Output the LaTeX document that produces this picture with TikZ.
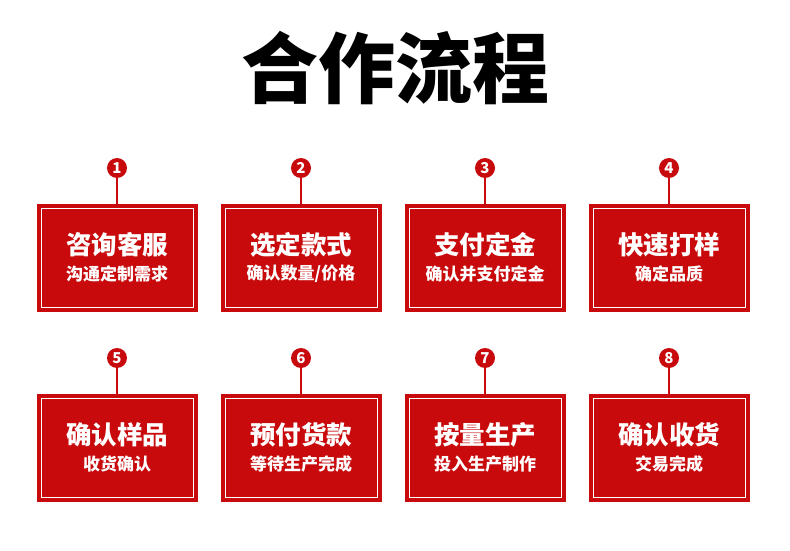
\documentclass[tikz,border=0pt]{standalone}
\usepackage{fontspec}
\setmainfont{Noto Sans CJK SC}
\usetikzlibrary{positioning,calc}
\definecolor{flowred}{RGB}{200,10,12}

\tikzset{
  stepcard/.style={fill=flowred,draw=flowred,minimum width=160pt,minimum height=107pt,inner sep=0pt,
    path picture={\draw[white,line width=1pt]
      ([shift={(4pt,4pt)}]path picture bounding box.south west) rectangle
      ([shift={(-4pt,-4pt)}]path picture bounding box.north east);}},
  stepnum/.style={circle,fill=flowred,minimum size=20pt,inner sep=0pt,text=white,
    font=\bfseries\fontsize{15}{15}\selectfont},
  steplink/.style={flowred,line width=2pt}
}

\begin{document}
\begin{tikzpicture}[x=1pt,y=1pt]
  \useasboundingbox[fill=white] (0,0) rectangle (790,550);
  \node[font=\bfseries\fontsize{77}{80}\selectfont] (title) at (395,482) {合作流程};
  \foreach \x/\y/\t/\s [count=\k] in {
    117/292.5/咨询客服/沟通定制需求,
    301/292.5/选定款式/{确认数量/价格},
    485/292.5/支付定金/确认并支付定金,
    669/292.5/快速打样/确定品质,
    117/102.5/确认样品/收货确认,
    301/102.5/预付货款/等待生产完成,
    485/102.5/按量生产/投入生产制作,
    669/102.5/确认收货/交易完成}
  {
    \node[stepcard] (b\k) at (\x,\y) {};
    \node[stepnum] (n\k) at ([yshift=89.5]b\k.center) {\k};
    \draw[steplink] (n\k) -- (b\k);
    \node[text=white,font=\bfseries\fontsize{25.5}{28}\selectfont] (t\k) at ([yshift=12.5]b\k.center) {\t};
    \node[text=white,font=\bfseries\fontsize{17}{18}\selectfont] (s\k) at ([yshift=-16.5]b\k.center) {\s};
  }
\end{tikzpicture}
\end{document}
